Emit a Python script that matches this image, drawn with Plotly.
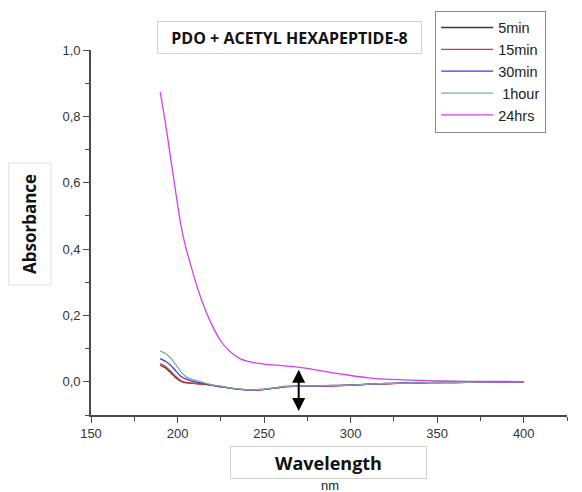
import plotly.graph_objects as go

# wavelength grid (nm)
wavelength = [190, 193, 196, 199, 202, 205, 208, 212, 216, 220, 225, 230, 236, 242, 248,
              255, 262, 270, 280, 290, 300, 310, 320, 330, 340, 350, 360, 375, 390, 400]

abs_5min = [0.050, 0.042, 0.028, 0.012, 0.001, -0.003, -0.004, -0.006, -0.008, -0.011, -0.015,
            -0.019, -0.023, -0.025, -0.024, -0.020, -0.015, -0.013, -0.013, -0.012, -0.010,
            -0.008, -0.006, -0.004, -0.003, -0.002, -0.002, -0.001, 0.000, 0.000]
abs_15min = [0.055, 0.046, 0.032, 0.016, 0.003, -0.002, -0.004, -0.006, -0.008, -0.011, -0.015,
             -0.019, -0.023, -0.025, -0.024, -0.020, -0.015, -0.013, -0.012, -0.012, -0.010,
             -0.007, -0.006, -0.004, -0.003, -0.002, -0.001, -0.001, 0.000, 0.000]
abs_30min = [0.070, 0.062, 0.050, 0.033, 0.016, 0.008, 0.003, -0.002, -0.006, -0.010, -0.014,
             -0.018, -0.022, -0.024, -0.023, -0.019, -0.014, -0.012, -0.012, -0.011, -0.010,
             -0.007, -0.005, -0.004, -0.003, -0.002, -0.002, -0.001, 0.000, 0.000]
abs_1hour = [0.093, 0.085, 0.072, 0.052, 0.030, 0.015, 0.008, 0.002, -0.004, -0.009, -0.013,
             -0.018, -0.022, -0.024, -0.023, -0.019, -0.014, -0.012, -0.012, -0.011, -0.010,
             -0.007, -0.005, -0.004, -0.003, -0.002, -0.002, -0.001, 0.000, 0.000]
abs_24hrs = [0.874, 0.780, 0.675, 0.570, 0.470, 0.400, 0.345, 0.275, 0.218, 0.170, 0.123,
             0.093, 0.070, 0.060, 0.055, 0.051, 0.048, 0.044, 0.036, 0.027, 0.019,
             0.012, 0.008, 0.006, 0.004, 0.003, 0.002, 0.001, 0.001, 0.000]

series_names = ['5min', '15min', '30min', ' 1hour', '24hrs']
series_values = [abs_5min, abs_15min, abs_30min, abs_1hour, abs_24hrs]
series_colors = ['#3a3a3a', '#e8312f', '#2f3cf0', '#86aaa4', '#d23ff0']

fig = go.Figure()

for name, vals, col in zip(series_names, series_values, series_colors):
    fig.add_trace(go.Scatter(
        x=wavelength, y=vals, mode='lines', name=name,
        line=dict(color=col, width=1.3, shape='spline', smoothing=0.5),
    ))

axis_common = dict(
    showgrid=False, zeroline=False, showline=True,
    linecolor='#4a4a4a', linewidth=1.6,
    ticks='outside', ticklen=6, tickwidth=1.4, tickcolor='#4a4a4a',
    tickfont=dict(family='Liberation Sans, Arial', size=13, color='#333333'),
    minor=dict(ticks='outside', ticklen=4, tickwidth=1.2, tickcolor='#4a4a4a'),
)

# page body has an 8px margin, so the figure is sized to fit the window
fig.update_layout(
    width=574, height=484,
    margin=dict(l=83, r=15, t=42, b=77, autoexpand=False),
    plot_bgcolor='white', paper_bgcolor='white',
    separators=', ',
    xaxis=dict(range=[150, 425], dtick=50, tick0=150,
               **axis_common),
    yaxis=dict(range=[-0.1, 1.0], dtick=0.2, tick0=0, tickformat='.1f',
               **axis_common),
    legend=dict(
        x=0.723, y=1.108, xanchor='left', yanchor='top',
        bgcolor='white', bordercolor='#8a8a8a', borderwidth=1,
        font=dict(family='Liberation Sans, Arial', size=14.5, color='#222222'),
        itemwidth=52, tracegroupgap=0,
    ),
    showlegend=True,
)
fig.update_xaxes(minor=dict(dtick=25, tick0=150))
fig.update_yaxes(minor=dict(dtick=0.1, tick0=0))

# boxed title
fig.add_annotation(
    text='<b>PDO + ACETYL HEXAPEPTIDE-8</b>', xref='paper', yref='paper',
    x=0.418, y=1.033, xanchor='center', yanchor='middle', showarrow=False,
    width=263, height=31,
    font=dict(family='Open Sans', size=16, color='#111111'),
    bordercolor='#d0d0d0', borderwidth=1, borderpad=0, bgcolor='white',
)
# boxed axis titles
fig.add_annotation(
    text='<b>Absorbance</b>', xref='paper', yref='paper',
    x=-0.1295, y=0.523, xanchor='center', yanchor='middle', showarrow=False,
    textangle=-90, width=121, height=41,
    font=dict(family='Open Sans', size=17, color='#111111'),
    bordercolor='#e0e0e0', borderwidth=1, borderpad=0,
)
fig.add_annotation(
    text='<b>Wavelength</b>', xref='paper', yref='paper',
    x=0.499, y=-0.1315, xanchor='center', yanchor='middle', showarrow=False,
    width=195, height=31,
    font=dict(family='Open Sans', size=18, color='#111111'),
    bordercolor='#d0d0d0', borderwidth=1, borderpad=0,
)
fig.add_annotation(
    text='nm', xref='paper', yref='paper',
    x=0.503, y=-0.192, xanchor='center', yanchor='middle', showarrow=False,
    font=dict(family='Liberation Sans, Arial', size=13, color='#222222'),
)
# double-headed arrow
fig.add_annotation(
    x=270, y=-0.088, ax=270, ay=0.041, xref='x', yref='y', axref='x', ayref='y',
    text='', showarrow=True, arrowhead=2, startarrowhead=2, arrowside='end+start',
    arrowwidth=2, arrowsize=1.3, startarrowsize=1.3, arrowcolor='black',
)

fig.write_html("out.html")
